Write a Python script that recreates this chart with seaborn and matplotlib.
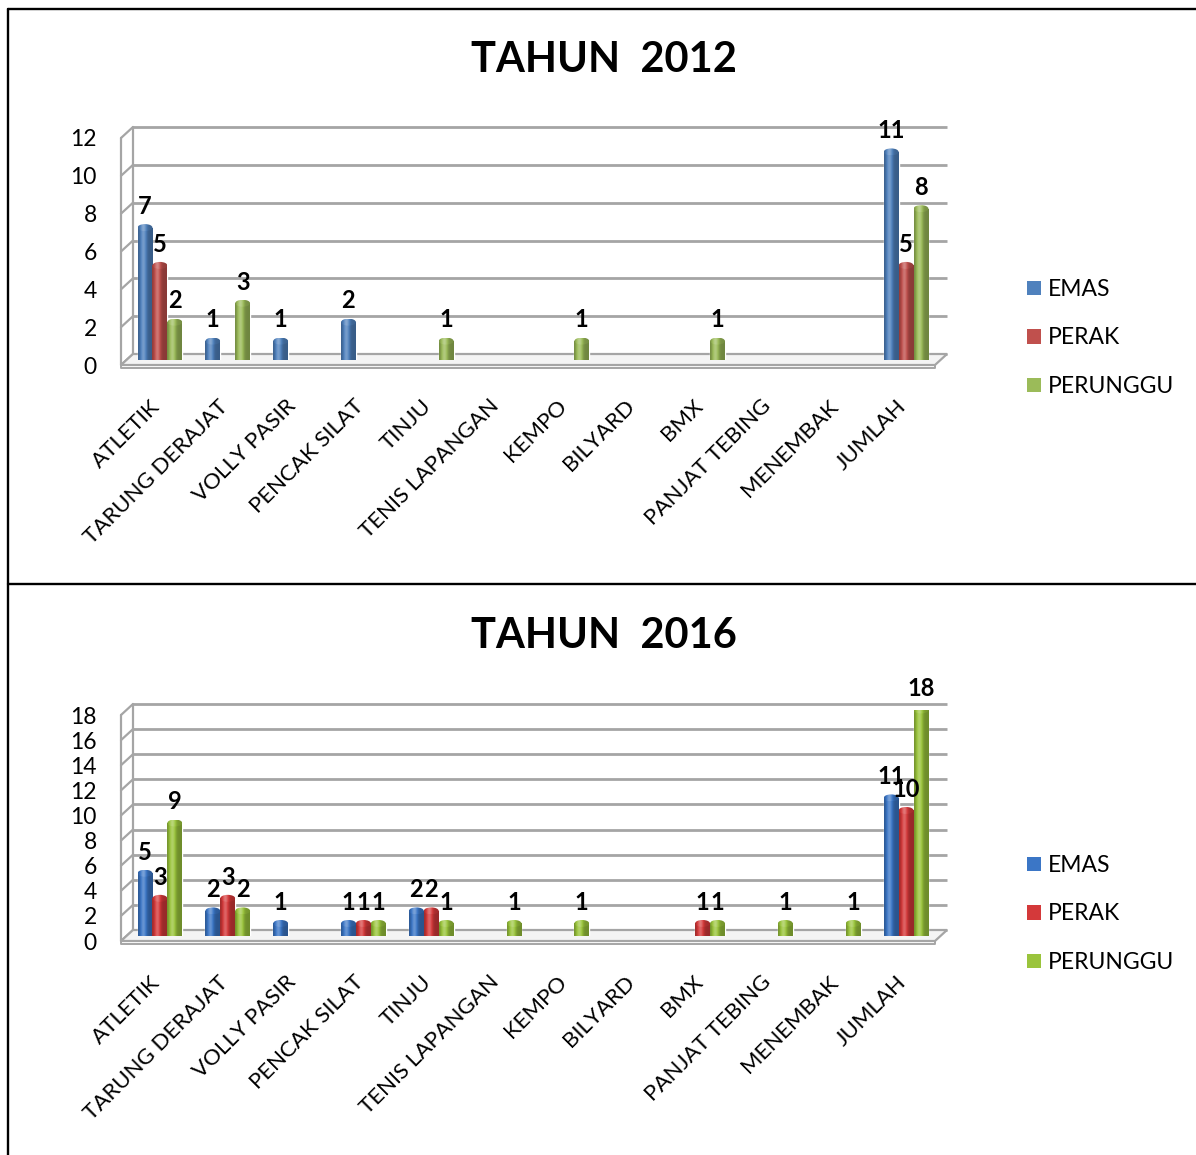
import numpy as np
import pandas as pd
import matplotlib
matplotlib.use("Agg")
import matplotlib.pyplot as plt
import seaborn as sns
from matplotlib.transforms import ScaledTranslation
from matplotlib.patches import Patch, Ellipse, Polygon
from matplotlib.lines import Line2D
from matplotlib.colors import to_rgb

categories = ["ATLETIK", "TARUNG DERAJAT", "VOLLY PASIR", "PENCAK SILAT", "TINJU",
              "TENIS LAPANGAN", "KEMPO", "BILYARD", "BMX", "PANJAT TEBING",
              "MENEMBAK", "JUMLAH"]
medals = ["EMAS", "PERAK", "PERUNGGU"]

emas_2012 = [7, 1, 1, 2, 0, 0, 0, 0, 0, 0, 0, 11]
perak_2012 = [5, 0, 0, 0, 0, 0, 0, 0, 0, 0, 0, 5]
perunggu_2012 = [2, 3, 0, 0, 1, 0, 1, 0, 1, 0, 0, 8]

emas_2016 = [5, 2, 1, 1, 2, 0, 0, 0, 0, 0, 0, 11]
perak_2016 = [3, 3, 0, 1, 2, 0, 0, 0, 1, 0, 0, 10]
perunggu_2016 = [9, 2, 0, 1, 1, 1, 1, 0, 1, 1, 1, 18]

colors_2012 = ["#4F81BD", "#C0504D", "#9BBB59"]
colors_2016 = ["#3B76C6", "#D4393A", "#9AC43C"]

W, H, DPI = 1196, 1155, 100

sns.set_style("white")
plt.rcParams["font.family"] = ["Lato", "DejaVu Sans"]
plt.rcParams["text.color"] = "black"
plt.rcParams["xtick.color"] = "black"
plt.rcParams["ytick.color"] = "black"

fig = plt.figure(figsize=(W / DPI, H / DPI), dpi=DPI)
fig.patch.set_facecolor("white")


def px_axes(left, right, top, bottom):
    return fig.add_axes([left / W, 1 - bottom / H, (right - left) / W, (bottom - top) / H])


def shift(ax, x, y, dx, dy):
    d = ax.transData.transform((x, y))
    return ax.transData.inverted().transform((d[0] + dx, d[1] + dy))


def gradient(base, boost=1.0):
    rgb = np.array(to_rgb(base))
    t = np.linspace(0, 1, 64)
    f = (0.72 + 0.5 * np.exp(-((t - 0.36) / 0.22) ** 2)) * boost
    f = f[:, None]
    cols = np.where(f >= 1, rgb + (1 - rgb) * np.clip(f - 1, 0, 1), rgb * f)
    return np.clip(cols, 0, 1)[None, :, :]


def draw_walls(ax, ymax, step):
    grid_c = "#A5A5A5"
    front = (-5, -5)
    back = (7, 6)
    x0, x1 = -0.5, len(categories) - 0.5
    for v in range(0, ymax + 1, step):
        a = shift(ax, x0, v, *back)
        b = shift(ax, x1, v, *back)
        f = shift(ax, x0, v, *front)
        ax.plot([a[0], b[0]], [a[1], b[1]], color=grid_c, lw=2.0,
                clip_on=False, zorder=0.5, solid_capstyle="butt")
        ax.plot([f[0], a[0]], [f[1], a[1]], color=grid_c, lw=1.6,
                clip_on=False, zorder=0.5)
    # wall edges
    fb, ft = shift(ax, x0, 0, *front), shift(ax, x0, ymax, *front)
    bb, bt = shift(ax, x0, 0, *back), shift(ax, x0, ymax, *back)
    ax.plot([fb[0], ft[0]], [fb[1], ft[1]], color=grid_c, lw=1.6, clip_on=False, zorder=0.5)
    ax.plot([bb[0], bt[0]], [bb[1], bt[1]], color=grid_c, lw=1.6, clip_on=False, zorder=0.5)
    # floor slab
    fr = shift(ax, x1, 0, *front)
    br = shift(ax, x1, 0, *back)
    floor = Polygon([fb, fr, br, bb], closed=True, facecolor="#F4F4F4",
                    edgecolor=grid_c, lw=1.6, clip_on=False, zorder=0.6)
    ax.add_patch(floor)
    fb2 = shift(ax, x0, 0, -5, -8)
    fr2 = shift(ax, x1, 0, -5, -8)
    ax.plot([fb[0], fb2[0], fr2[0], fr[0]], [fb[1], fb2[1], fr2[1], fr[1]],
            color=grid_c, lw=1.4, clip_on=False, zorder=0.6)


def panel(title, title_y, box, emas, perak, perunggu, colors, ymax, step, legend_top):
    left, right, top, bottom = box
    ax = px_axes(left, right, top, bottom)
    df = pd.DataFrame({
        "cabang": categories * 3,
        "medali": [m for m in medals for _ in categories],
        "jumlah": list(emas) + list(perak) + list(perunggu),
    })
    sns.barplot(data=df, x="cabang", y="jumlah", hue="medali", order=categories,
                hue_order=medals, palette=colors, width=0.66, gap=0, dodge=True,
                errorbar=None, saturation=1, legend=False, ax=ax, zorder=2)
    ax.set_xlim(-0.5, len(categories) - 0.5)
    ax.set_ylim(0, ymax)
    for s in ax.spines.values():
        s.set_visible(False)
    ax.set_xlabel("")
    ax.set_ylabel("")
    ax.set_facecolor("none")
    draw_walls(ax, ymax, step)

    px_per_unit = (bottom - top) / ymax
    cap_h = 7 / px_per_unit
    for cont, base, vals in zip(ax.containers, colors, [emas, perak, perunggu]):
        body = gradient(base)
        top_img = gradient(base, 1.08)
        for bar in cont:
            h = bar.get_height()
            if h <= 0:
                bar.set_visible(False)
                continue
            x0, w = bar.get_x(), bar.get_width()
            im = ax.imshow(body, extent=(x0, x0 + w, 0, h), aspect="auto",
                           interpolation="bilinear", zorder=2.1)
            im.set_clip_path(bar)
            cap = Ellipse((x0 + w / 2, h), w, cap_h, facecolor="none",
                          edgecolor="none", zorder=2.2)
            ax.add_patch(cap)
            im2 = ax.imshow(top_img, extent=(x0, x0 + w, h - cap_h / 2, h + cap_h / 2),
                            aspect="auto", interpolation="bilinear", zorder=2.2)
            im2.set_clip_path(cap)
        ax.bar_label(cont, labels=[str(v) if v else "" for v in vals], padding=7,
                     fontsize=17, fontweight="bold", color="black", zorder=5)
    ax.set_xlim(-0.5, len(categories) - 0.5)
    ax.set_ylim(0, ymax)

    ax.set_yticks(range(0, ymax + 1, step))
    ax.tick_params(axis="y", length=0, pad=21, labelsize=16.5)
    for lab in ax.get_yticklabels():
        lab.set_transform(lab.get_transform() + ScaledTranslation(0, -5 / DPI, fig.dpi_scale_trans))
    ax.tick_params(axis="x", length=0, pad=26, labelsize=16)
    ax.set_xticks(range(len(categories)))
    ax.set_xticklabels(categories, rotation=45, ha="right", rotation_mode="anchor")
    for lab in ax.get_xticklabels():
        lab.set_transform(lab.get_transform() + ScaledTranslation(-10 / DPI, 0, fig.dpi_scale_trans))

    fig.text(604 / W, 1 - title_y / H, title, ha="center", va="center",
             fontsize=30, fontweight="bold", color="black")

    handles = [Patch(facecolor=c, edgecolor="none") for c in colors]
    ax.legend(handles, medals, loc="upper left", bbox_to_anchor=(1027 / W, 1 - legend_top / H),
              bbox_transform=fig.transFigure, frameon=False, fontsize=16.5,
              handlelength=0.62, handleheight=0.62, handletextpad=0.3,
              labelspacing=1.2, borderpad=0, borderaxespad=0)
    return ax


panel("TAHUN  2012", 60, (126, 940, 133, 360),
      emas_2012, perak_2012, perunggu_2012, colors_2012, 12, 2, 279)
panel("TAHUN  2016", 636, (126, 940, 710, 936),
      emas_2016, perak_2016, perunggu_2016, colors_2016, 18, 2, 855)

# outer frame and divider
lw = 1.7
fig.add_artist(Line2D([8 / W, 1], [1 - 9 / H, 1 - 9 / H], transform=fig.transFigure,
                      color="black", lw=lw))
fig.add_artist(Line2D([8 / W, 8 / W], [1 - 9 / H, 0], transform=fig.transFigure,
                      color="black", lw=lw))
fig.add_artist(Line2D([8 / W, 1], [1 - 584 / H, 1 - 584 / H], transform=fig.transFigure,
                      color="black", lw=lw))

fig.savefig("out.png", dpi=DPI, facecolor="white")
